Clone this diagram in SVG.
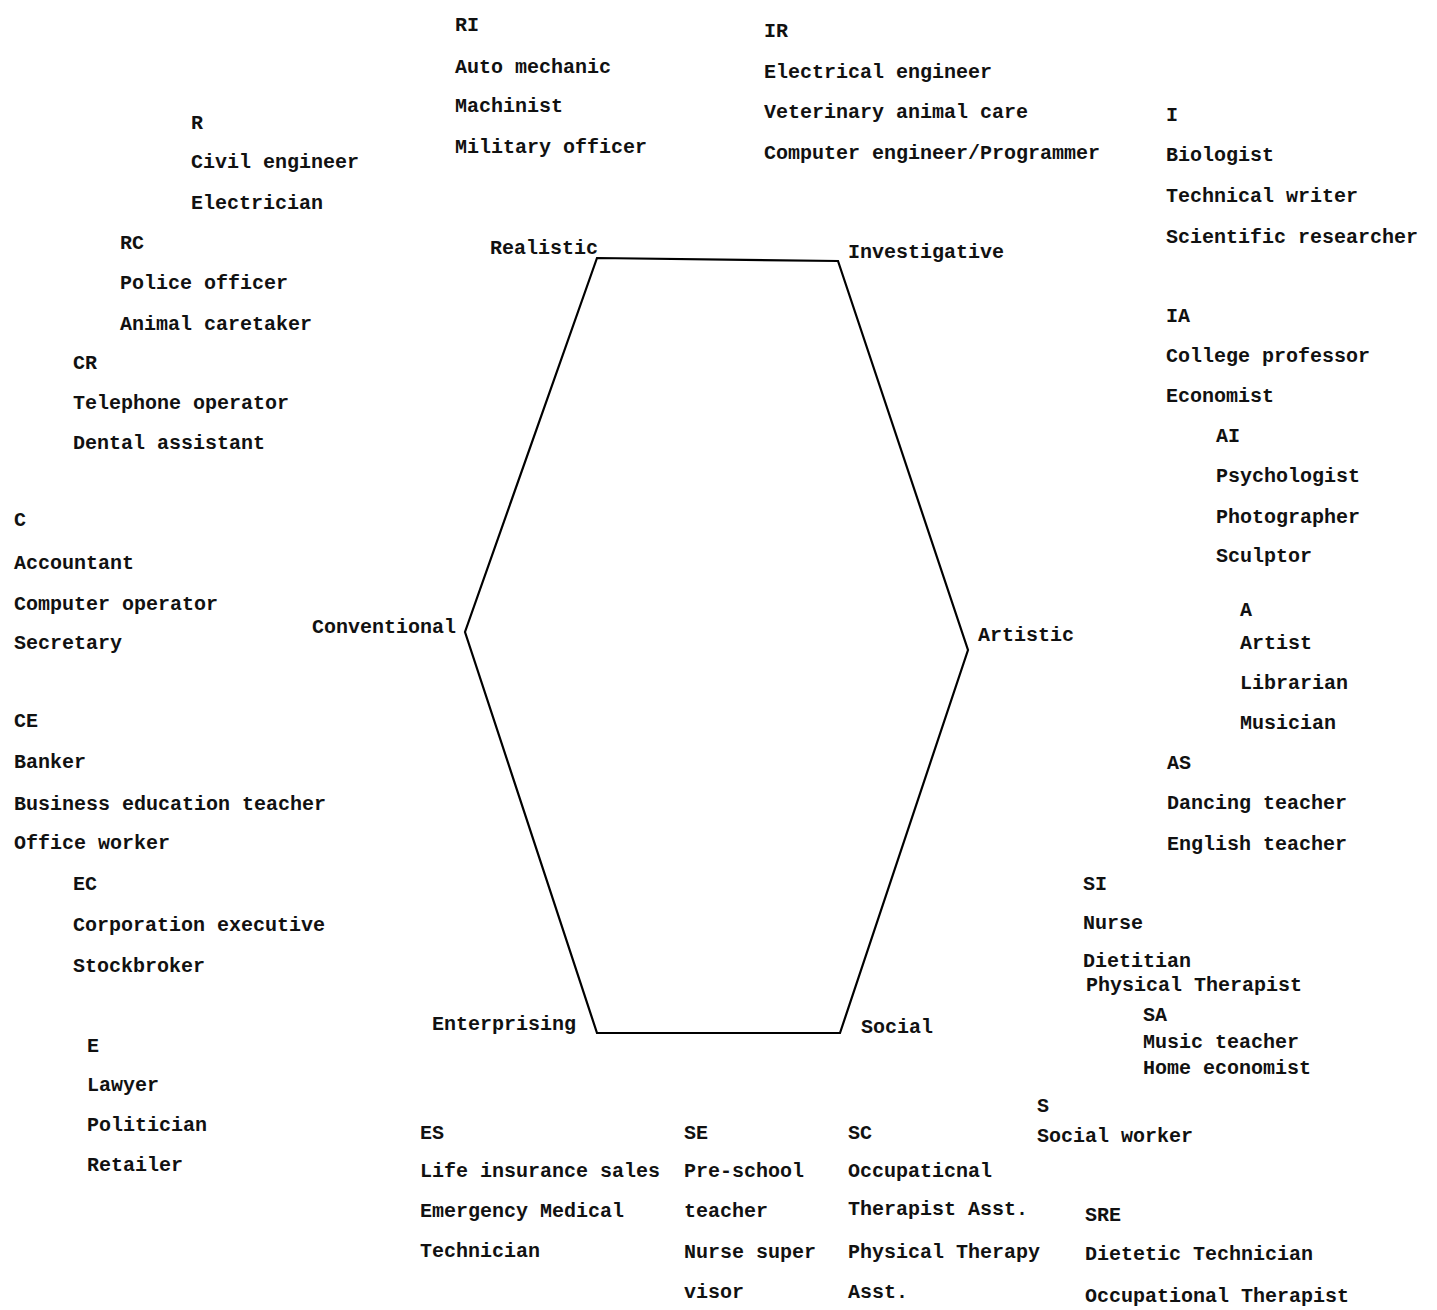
<svg xmlns="http://www.w3.org/2000/svg" width="1437" height="1310" viewBox="0 0 1437 1310">
<style>
text{font-family:"Liberation Mono","DejaVu Sans Mono",monospace;font-size:20px;font-weight:bold;fill:#111;}
.hex{fill:none;stroke:#000;stroke-width:2.2;stroke-linejoin:miter;}
</style>
<rect width="1437" height="1310" fill="#fff"/>
<g id="connectors">
<polygon class="hex" points="597,258 838,261 968,650 840,1033 597,1033 465,632"/>
</g>
<g id="type-labels">
<text x="490" y="254">Realistic</text>
<text x="848" y="258">Investigative</text>
<text x="978" y="641">Artistic</text>
<text x="861" y="1033">Social</text>
<text x="432" y="1030">Enterprising</text>
<text x="312" y="633">Conventional</text>
</g>
<g id="node-RI">
<text x="455" y="31">RI</text>
<text x="455" y="73">Auto mechanic</text>
<text x="455" y="112">Machinist</text>
<text x="455" y="153">Military officer</text>
</g>
<g id="node-IR">
<text x="764" y="37">IR</text>
<text x="764" y="78">Electrical engineer</text>
<text x="764" y="118">Veterinary animal care</text>
<text x="764" y="159">Computer engineer/Programmer</text>
</g>
<g id="node-R">
<text x="191" y="129">R</text>
<text x="191" y="168">Civil engineer</text>
<text x="191" y="209">Electrician</text>
</g>
<g id="node-RC">
<text x="120" y="249">RC</text>
<text x="120" y="289">Police officer</text>
<text x="120" y="330">Animal caretaker</text>
</g>
<g id="node-CR">
<text x="73" y="369">CR</text>
<text x="73" y="409">Telephone operator</text>
<text x="73" y="449">Dental assistant</text>
</g>
<g id="node-I">
<text x="1166" y="121">I</text>
<text x="1166" y="161">Biologist</text>
<text x="1166" y="202">Technical writer</text>
<text x="1166" y="243">Scientific researcher</text>
</g>
<g id="node-IA">
<text x="1166" y="322">IA</text>
<text x="1166" y="362">College professor</text>
<text x="1166" y="402">Economist</text>
</g>
<g id="node-AI">
<text x="1216" y="442">AI</text>
<text x="1216" y="482">Psychologist</text>
<text x="1216" y="523">Photographer</text>
<text x="1216" y="562">Sculptor</text>
</g>
<g id="node-A">
<text x="1240" y="616">A</text>
<text x="1240" y="649">Artist</text>
<text x="1240" y="689">Librarian</text>
<text x="1240" y="729">Musician</text>
</g>
<g id="node-AS">
<text x="1167" y="769">AS</text>
<text x="1167" y="809">Dancing teacher</text>
<text x="1167" y="850">English teacher</text>
</g>
<g id="node-SI">
<text x="1083" y="890">SI</text>
<text x="1083" y="929">Nurse</text>
<text x="1083" y="967">Dietitian</text>
<text x="1086" y="991">Physical Therapist</text>
</g>
<g id="node-SA">
<text x="1143" y="1021">SA</text>
<text x="1143" y="1048">Music teacher</text>
<text x="1143" y="1074">Home economist</text>
</g>
<g id="node-S">
<text x="1037" y="1112">S</text>
<text x="1037" y="1142">Social worker</text>
</g>
<g id="node-SRE">
<text x="1085" y="1221">SRE</text>
<text x="1085" y="1260">Dietetic Technician</text>
<text x="1085" y="1302">Occupational Therapist</text>
</g>
<g id="node-C">
<text x="14" y="526">C</text>
<text x="14" y="569">Accountant</text>
<text x="14" y="610">Computer operator</text>
<text x="14" y="649">Secretary</text>
</g>
<g id="node-CE">
<text x="14" y="727">CE</text>
<text x="14" y="768">Banker</text>
<text x="14" y="810">Business education teacher</text>
<text x="14" y="849">Office worker</text>
</g>
<g id="node-EC">
<text x="73" y="890">EC</text>
<text x="73" y="931">Corporation executive</text>
<text x="73" y="972">Stockbroker</text>
</g>
<g id="node-E">
<text x="87" y="1052">E</text>
<text x="87" y="1091">Lawyer</text>
<text x="87" y="1131">Politician</text>
<text x="87" y="1171">Retailer</text>
</g>
<g id="node-ES">
<text x="420" y="1139">ES</text>
<text x="420" y="1177">Life insurance sales</text>
<text x="420" y="1217">Emergency Medical</text>
<text x="420" y="1257">Technician</text>
</g>
<g id="node-SE">
<text x="684" y="1139">SE</text>
<text x="684" y="1177">Pre-school</text>
<text x="684" y="1217">teacher</text>
<text x="684" y="1258">Nurse super</text>
<text x="684" y="1298">visor</text>
</g>
<g id="node-SC">
<text x="848" y="1139">SC</text>
<text x="848" y="1177">Occupaticnal</text>
<text x="848" y="1215">Therapist Asst.</text>
<text x="848" y="1258">Physical Therapy</text>
<text x="848" y="1298">Asst.</text>
</g>
</svg>
